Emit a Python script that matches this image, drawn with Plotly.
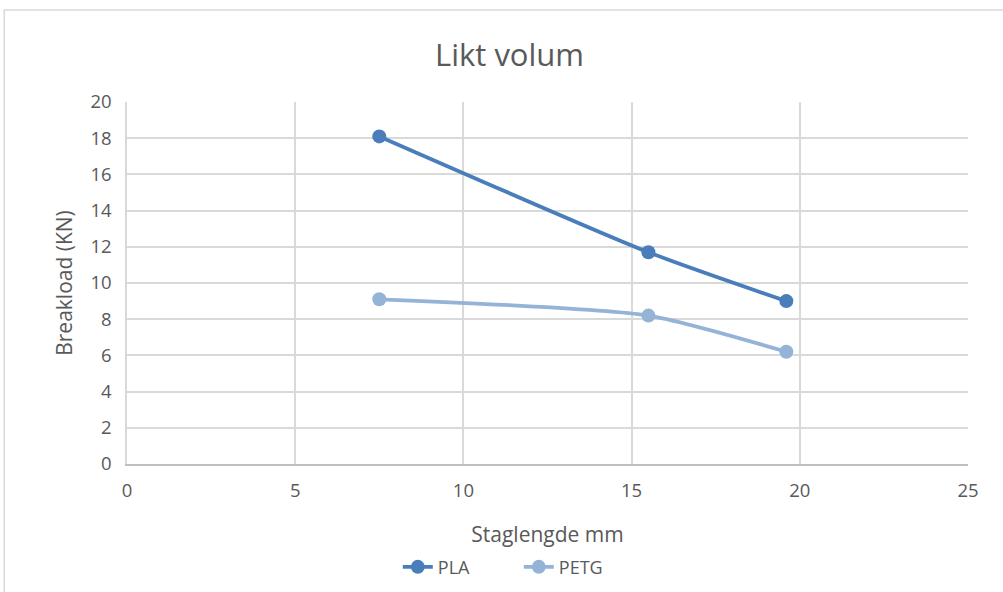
import plotly.graph_objects as go

# Stag length (mm) vs. break load (kN) at equal volume
staglengde = [7.5, 15.5, 19.6]
pla = [18.1, 11.7, 9.0]
petg = [9.1, 8.2, 6.2]

FONT = "Open Sans"
TXT = "#595959"
GRID = "#d9d9d9"

fig = go.Figure()
fig.add_trace(go.Scatter(
    x=staglengde, y=pla, name="PLA", mode="lines+markers",
    line=dict(color="#4a7ebb", width=3.8, shape="spline", smoothing=0.6),
    marker=dict(color="#4a7ebb", size=14),
))
fig.add_trace(go.Scatter(
    x=staglengde, y=petg, name="PETG", mode="lines+markers",
    line=dict(color="#95b3d7", width=3.8, shape="spline", smoothing=0.6),
    marker=dict(color="#95b3d7", size=14),
))

fig.update_layout(
    width=1003, height=592,
    margin=dict(l=127, r=35, t=102, b=128, autoexpand=False),
    paper_bgcolor="white", plot_bgcolor="white",
    font=dict(family=FONT, color=TXT, size=18),
    title=dict(text="Likt volum", x=0.508, xanchor="center", y=0.907, yanchor="middle",
               font=dict(family=FONT, size=31, color=TXT)),
    showlegend=True,
    legend=dict(orientation="h", x=0.322, xanchor="left", y=-0.285, yanchor="middle",
                font=dict(family=FONT, size=18, color=TXT),
                entrywidth=76, entrywidthmode="pixels", traceorder="normal"),
    xaxis=dict(range=[0, 25], dtick=5, showgrid=True, gridcolor=GRID, gridwidth=1.5,
               showline=True, linecolor="#bfbfbf", linewidth=1.5, zeroline=False,
               ticks="", tickfont=dict(size=18.5, color=TXT), ticklabelstandoff=9,
               title=dict(text="Staglengde mm", font=dict(size=21, color=TXT), standoff=26),
               automargin=False, fixedrange=True),
    yaxis=dict(range=[0, 20], dtick=2, showgrid=True, gridcolor=GRID, gridwidth=1.5,
               showline=True, linecolor=GRID, linewidth=1.5, zeroline=False,
               ticks="", tickfont=dict(size=18.5, color=TXT), ticklabelstandoff=10,
               title=dict(text="Breakload (KN)", font=dict(size=21, color=TXT), standoff=12),
               automargin=False, fixedrange=True),
)

# Outer chart-area border
fig.add_shape(type="rect", xref="paper", yref="paper",
              x0=-0.146, x1=1.06, y0=-0.4, y1=1.254,
              line=dict(color="#d9d9d9", width=1.5), fillcolor="rgba(0,0,0,0)", layer="below")

fig.write_html("out.html")
